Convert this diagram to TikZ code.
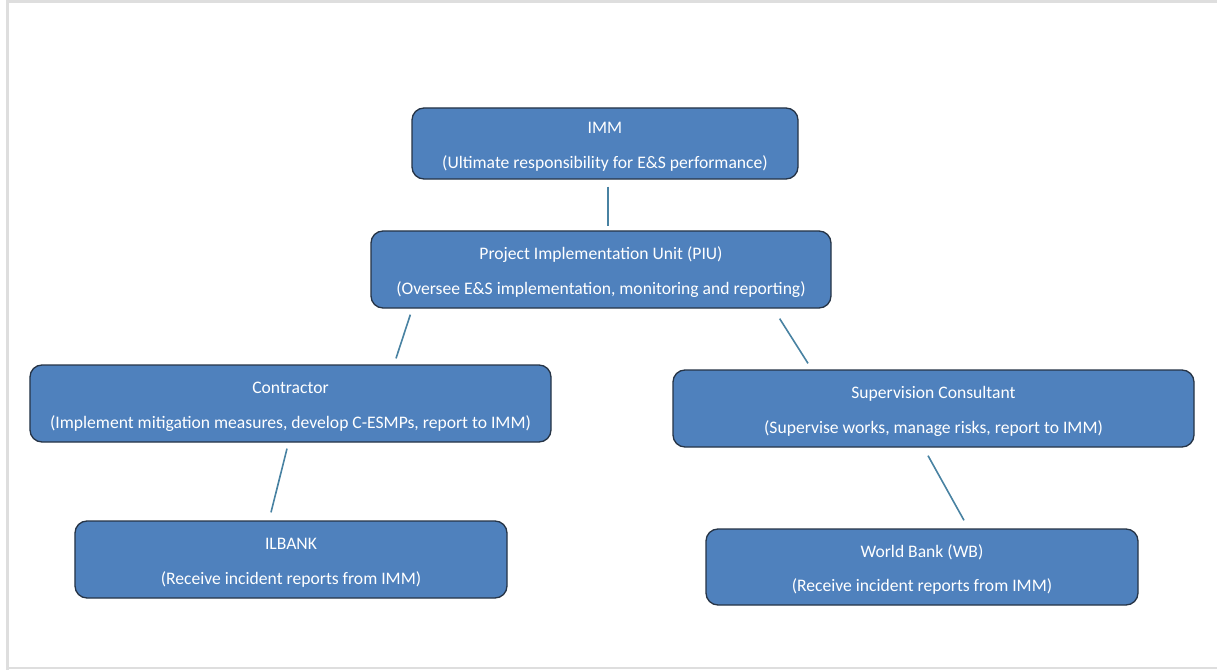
\documentclass[tikz,border=0pt]{standalone}
\usepackage{fontspec}
\setmainfont{Carlito}
\definecolor{boxfill}{RGB}{79,129,189}
\definecolor{boxedge}{RGB}{38,52,70}
\definecolor{linkc}{RGB}{72,130,162}
\definecolor{frame}{RGB}{222,222,222}
\begin{document}
\begin{tikzpicture}[x=1bp,y=-1bp,
  orgbox/.style={draw=boxedge, line width=1.3bp, fill=boxfill, rounded corners=12bp,
    text=white, align=center, inner sep=0pt, font=\fontsize{17.6bp}{34.5bp}\selectfont},
  link/.style={draw=linkc, line width=1.6bp}]
\useasboundingbox (0,0) rectangle (1217,670);
\fill[white] (0,0) rectangle (1217,670);
\draw[frame, line width=3bp] (7,670) -- (7,2) -- (1217,2);
\draw[frame, line width=2bp] (7,668) -- (1217,668);
\node[orgbox, minimum width=386bp, minimum height=71bp] (imm) at (605,143.5)
  {\rule{0pt}{18bp}IMM\\(Ultimate responsibility for E\&S performance)};
\node[orgbox, minimum width=460bp, minimum height=77bp] (piu) at (601,269.5)
  {\rule{0pt}{18bp}Project Implementation Unit (PIU)\\(Oversee E\&S implementation, monitoring and reporting)};
\node[orgbox, minimum width=521bp, minimum height=77bp] (con) at (290.5,403.5)
  {\rule{0pt}{18bp}Contractor\\(Implement mitigation measures, develop C-ESMPs, report to IMM)};
\node[orgbox, minimum width=521bp, minimum height=77bp] (sup) at (933.5,408.5)
  {\rule{0pt}{18bp}Supervision Consultant\\(Supervise works, manage risks, report to IMM)};
\node[orgbox, minimum width=432bp, minimum height=77bp] (ilb) at (291,559.5)
  {\rule{0pt}{18bp}ILBANK\\(Receive incident reports from IMM)};
\node[orgbox, minimum width=432bp, minimum height=76bp] (wb) at (922,567)
  {\rule{0pt}{18bp}World Bank (WB)\\(Receive incident reports from IMM)};
\draw[link] ([shift={(3,7)}]imm.south) -- ([shift={(7,-4)}]piu.north);
\draw[link] ([shift={(40,6)}]piu.south west) -- ([shift={(105.5,-6)}]con.north);
\draw[link] ([shift={(-52,10)}]piu.south east) -- ([shift={(-125.5,-6)}]sup.north);
\draw[link] ([shift={(-3.5,6)}]con.south) -- ([shift={(-20,-8)}]ilb.north);
\draw[link] ([shift={(-5.5,8)}]sup.south) -- ([shift={(42,-8)}]wb.north);
\end{tikzpicture}
\end{document}
